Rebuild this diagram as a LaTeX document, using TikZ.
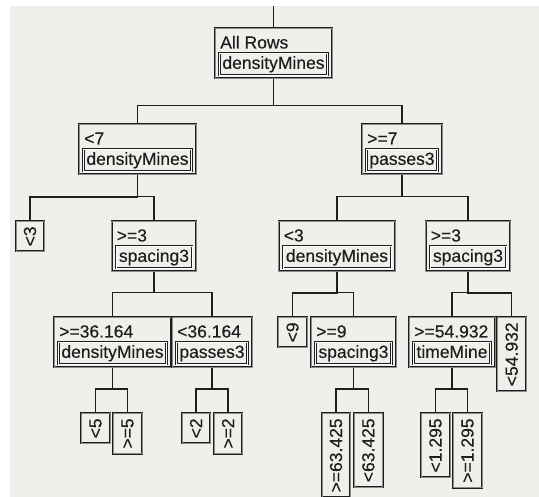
\documentclass[tikz,border=0pt]{standalone}
\usepackage{fontspec}
\setmainfont{Liberation Sans}[FakeBold=0.3]
\usepackage{graphicx}
\usetikzlibrary{fit}

\definecolor{panel}{RGB}{239,239,235}
\definecolor{ink}{RGB}{30,30,30}

\tikzset{
  frame/.style={draw=ink, line width=0.8pt, double=black!45, double distance=0.4pt},
  splitbox/.style={frame, inner xsep=4pt, inner ysep=2.5pt},
  varbox/.style={draw=ink, line width=0.7pt, double=white, double distance=0.8pt,
    inner xsep=3pt, inner ysep=0pt, minimum height=22pt, text height=13pt, text depth=4pt, anchor=north},
  cond/.style={inner sep=0pt, text height=18pt, text depth=0pt, anchor=base west},
  leaf/.style={frame, inner xsep=0pt, inner ysep=5pt, minimum width=28.5pt, anchor=north},
  link/.style={draw=ink, line width=1.2pt},
}

\begin{document}
\begin{tikzpicture}[x=1pt, y=-1pt, font=\fontsize{17.5}{20}\selectfont, text=ink]
\clip (0,0) rectangle (539,497);
\fill[white] (0,0) rectangle (539,497);
\fill[panel] (10,6) rectangle (539,497);

% split nodes: name/x/y/condition/variable
\foreach \n/\x/\y/\c/\v in {root/273.5/53/All Rows/densityMines,
    lt7/137.5/149/<7/densityMines, ge7/402/149/>=7/passes3,
    ge3a/154/246/>=3/spacing3, lt3b/337/246/<3/densityMines, ge3c/468/246/>=3/spacing3,
    ge36/112.5/342/>=36.164/densityMines, lt36/212/342/<36.164/passes3,
    ge9/353.5/342/>=9/spacing3, ge54/452/342/>=54.932/timeMine} {
  \node[varbox] (\n-var) at (\x,\y) {\v};
  \node[cond] (\n-cond) at ([xshift=1pt,yshift=4.5pt]\n-var.north west) {\c};
  \node[splitbox, fit=(\n-var)(\n-cond)] (\n) {};
}

% leaves
\foreach \n/\x/\y/\c in {lt3a/30/221/<3, lt9/292.5/317/<9, lt54/511.7/317/<54.932,
    lt5/95.5/413/<5, ge5/127.5/413/>=5, lt2/196/413/<2, ge2/228/413/>=2,
    ge63/336/413/>=63.425, lt63/368.3/413/<63.425, lt1/435.5/413/<1.295, ge1/467.5/413/>=1.295} {
  \node[leaf] (\n) at (\x,\y) {\rotatebox{90}{\c}};
}

\coordinate (entry) at (273.5,6);
\draw[link] (entry) -- (root.north);

\foreach \c in {lt7,ge7}
  \draw[link] (root.south) |- ([yshift=18pt]\c.north) -- (\c.north);

\foreach \p/\c in {lt7/lt3a, lt7/ge3a, ge7/lt3b, ge7/ge3c,
    ge3a/ge36, ge3a/lt36, lt3b/lt9, lt3b/ge9, ge3c/ge54, ge3c/lt54,
    ge36/lt5, ge36/ge5, lt36/lt2, lt36/ge2, ge9/ge63, ge9/lt63, ge54/lt1, ge54/ge1}
  \draw[link] (\p.south) |- ([yshift=24pt]\c.north) -- (\c.north);
\end{tikzpicture}
\end{document}
